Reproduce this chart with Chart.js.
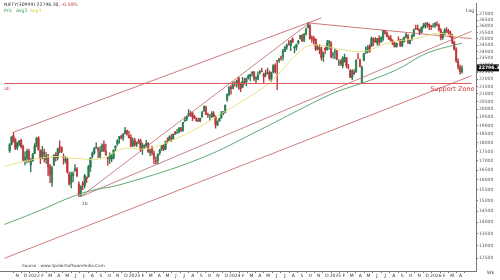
<!DOCTYPE html>
<html>
<head>
<meta charset="utf-8">
<script src="https://cdn.jsdelivr.net/npm/chart.js@4"></script>
<style>
  html, body { margin: 0; padding: 0; background: #fff; }
  canvas { display: block; }
</style>
</head>
<body>
<canvas id="chart" width="500" height="280"></canvas>
<script>
// weekly candles, week 0 = week of 4 Oct 2021
const START = Date.UTC(2021, 9, 4);
const WEEK = 7 * 86400000;

// [open, high, low, close]
const ohlc = [
  [17530,17950,17450,17895],[17900,18350,17870,18338],[18400,18604,18030,18114],[18160,18240,17610,17671],
  [17700,18020,17600,17916],[17950,18130,17840,18102],[18140,18210,17690,17765],[17800,17860,16980,17026],
  [17050,17490,16780,17196],[17150,17640,16890,17511],[17520,17640,16940,16985],[16770,17120,16410,17003],
  [17000,17400,16960,17354],[17390,17950,17380,17812],[17820,18290,17780,18256],[18280,18350,17580,17617],
  [17590,17600,16840,17102],[17130,17790,17100,17516],[17460,17640,16920,17375],[17070,17440,16860,17276],
  [17190,17350,16200,16658],[16730,16810,15860,16245],[15870,16700,15670,16630],[16760,17340,16740,17287],
  [17330,17440,16980,17153],[17180,17700,17050,17670],[17810,18110,17420,17784],[17740,17760,17440,17476],
  [17180,17380,16820,17172],[17000,17240,16890,17103],[17100,17130,16340,16411],[16300,16400,15740,15782],
  [15850,16400,15600,16266],[16210,16420,15900,16352],[16480,16790,16440,16584],[16570,16640,16170,16202],
  [15780,15900,15180,15294],[15330,15710,15190,15699],[15830,15930,15510,15752],[15710,16280,15600,16220],
  [16130,16160,15860,16049],[16150,16750,16140,16719],[16660,17170,16440,17158],[17240,17490,17150,17398],
  [17420,17720,17360,17698],[17700,17990,17680,17758],[17680,17730,17170,17559],[17190,17780,17170,17539],
  [17550,17930,17490,17833],[17890,18100,17500,17531],[17540,17920,17290,17327],[17160,17200,16750,17094],
  [17100,17430,16860,17315],[17090,17350,16950,17186],[17140,17610,17100,17576],[17700,17840,17530,17787],
  [17910,18180,17840,18117],[18210,18360,17970,18350],[18380,18440,18210,18308],[18250,18530,18130,18512],
  [18510,18890,18500,18696],[18720,18730,18420,18497],[18400,18670,18250,18269],[18290,18470,17770,17806],
  [17830,18270,17770,18105],[18130,18250,17800,17859],[17910,18050,17770,17956],[18080,18200,17960,18027],
  [18120,18200,17490,17604],[17650,17970,17350,17854],[17820,17880,17690,17856],[17840,18130,17760,17944],
  [17960,18000,17460,17465],[17430,17640,17260,17594],[17680,17800,17320,17413],[17420,17530,16850,17100],
  [16990,17210,16830,16945],[17000,17380,16830,17360],[17430,17640,17310,17599],[17630,17850,17570,17828],
  [17860,17870,17550,17624],[17630,18090,17610,18065],[18120,18270,17980,18069],[18120,18390,18110,18315],
  [18340,18460,18060,18203],[18200,18510,18180,18499],[18590,18660,18460,18534],[18560,18780,18510,18563],
  [18600,18890,18560,18826],[18870,18890,18650,18666],[18680,19200,18650,19189],[19250,19520,19280,19332],
  [19380,19570,19300,19564],[19610,19990,19560,19745],[19750,19890,19560,19646],[19780,19800,19300,19517],
  [19580,19620,19410,19428],[19380,19470,19250,19310],[19330,19460,19230,19266],[19300,19460,19220,19435],
  [19530,19870,19490,19820],[19890,20220,19870,20192],[20160,20200,19670,19674],[19680,19770,19490,19638],
  [19620,19660,19330,19653],[19540,19850,19480,19751],[19730,19850,19520,19543],[19520,19590,18840,19047],
  [19050,19280,18970,19231],[19260,19450,19260,19425],[19440,19880,19440,19732],[19730,19880,19670,19795],
  [19800,20290,19780,20268],[20600,21010,20510,20969],[20970,21490,20870,21457],[21450,21590,20980,21349],
  [21370,21800,21330,21731],[21730,21830,21500,21711],[21750,21930,21450,21895],[22050,22120,21290,21622],
  [21700,21750,21140,21353],[21430,22130,21430,21854],[21830,22050,21630,21783],[21790,22070,21530,22041],
  [22100,22300,22000,22213],[22170,22350,21880,22339],[22400,22530,22220,22494],[22520,22530,21900,22023],
  [21990,22180,21710,22097],[22000,22520,21950,22327],[22450,22620,22350,22514],[22580,22780,22500,22519],
  [22340,22430,21780,22147],[22340,22630,22180,22420],[22480,22790,22350,22476],[22500,22590,21930,22055],
  [22030,22500,21820,22467],[22500,23030,22430,22957],[22990,23110,22420,22531],[23340,23340,21280,23290],
  [23320,23490,23200,23466],[23570,23670,23350,23501],[23590,24170,23350,24011],[23990,24400,23990,24324],
  [24330,24590,24170,24502],[24540,24850,24500,24531],[24450,24860,24070,24835],[24940,25080,24690,24718],
  [24300,24420,23890,24368],[24320,24570,24100,24541],[24640,24870,24580,24823],[25010,25270,24970,25236],
  [25290,25330,24760,24852],[24820,25430,24760,25357],[25400,25850,25280,25791],[25870,26280,25870,26179],
  [26060,26130,24970,25015],[25080,25230,24700,24964],[25020,25210,24570,24854],[24960,24980,24070,24181],
  [24250,24500,24130,24304],[24310,24540,23820,24148],[24090,24340,23350,23533],[23600,23960,23260,23907],
  [24250,24350,23870,24131],[24140,24860,24100,24678],[24670,24860,24180,24768],[24660,24780,23540,23588],
  [23740,23940,23480,23813],[23960,24230,23460,24005],[24050,24090,23380,23432],[23200,23400,22960,23203],
  [23290,23390,22980,23092],[22940,23630,22790,23508],[23240,23810,23220,23560],[23540,23570,22800,22929],
  [22810,23050,22730,22796],[22610,22670,22100,22125],[22120,22670,21960,22553],[22520,22680,22310,22397],
  [22510,23400,22470,23350],[23520,23870,23450,23519],[23340,23460,22860,22904],[21760,22920,21740,22829],
  [23340,23870,23300,23852],[23950,24360,23850,24039],[24070,24460,23900,24347],[24420,24530,23940,24008],
  [24420,25120,24380,25020],[25000,25070,24460,24853],[24900,25080,24700,24751],[24670,25030,24500,25003],
  [25050,25220,24480,24719],[24730,25140,24700,25112],[24940,25670,24820,25638],[25660,25670,25330,25461],
  [25460,25550,25130,25150],[25150,25250,24920,24968],[25000,25240,24810,24837],[24790,24900,24540,24565],
  [24570,24720,24340,24363],[24370,24670,24340,24631],[24880,25150,24860,24870],[24900,24950,24400,24427],
  [24430,24980,24380,24741],[24770,25140,24750,25114],[25120,25450,25080,25327],[25240,25330,24630,24655],
  [24630,24910,24590,24894],[24900,25320,24880,25285],[25230,25780,25150,25710],[25800,26100,25720,25795],
  [25800,26100,25700,25722],[25700,25770,25320,25492],[25500,25950,25450,25910],[25950,26250,25850,26068],
  [26000,26310,25850,26203],[26250,26330,25900,26186],[26150,26200,25730,26047],[26000,26080,25730,25966],
  [26000,26230,25900,26042],[26030,26300,25900,26250],[26200,26380,26000,26100],[26100,26200,25600,25700],
  [25700,25800,24900,25050],[25050,25500,24950,25400],[25400,25800,25300,25700],[25700,25900,25500,25600],
  [25600,25750,25300,25450],[25450,25600,25100,25200],[25200,25350,24600,24700],[24700,24800,24100,24200],
  [24200,24300,23200,23300],[23300,23450,22700,22850],[22850,23000,22350,22500],[22500,22950,22400,22796]
];

// moving averages: [week, value]
const avgSlow = [[-2.7,13900],[13,14430],[38,15354],[58.5,15790],[99,17120],[130,18740],[150,19940],
  [169,21090],[184,21760],[201,22660],[217,23890],[235,24650]];
const avgFast = [[-2.7,16700],[7.5,16960],[23,17230],[34.5,17120],[48,17120],[58.5,17660],[72,17660],
  [82.5,18050],[96,18740],[107,19510],[120,20450],[135,21760],[150,23890],[157,24500],[174,24120],
  [185,24040],[196,24650],[212,25040],[223,25430],[235,25040]];

// trend lines: [[week, price], [week, price]]
const upperLine = [[2,18604],[162,26695]];
const topDownLine = [[155,26277],[240,25000]];
const steepLine = [[37,15183],[156,26300]];
const midLine = [[37,15183],[240,25590]];
const lowerLine = [[-2.7,12490],[240,22240]];
const supportLevel = 21700;

const tickLabels = ['N','D',
  '2022','F','M','A','M','J','J','A','S','O','N','D',
  '2023','F','M','A','M','J','J','A','S','O','N','D',
  '2024','F','M','A','M','J','J','A','S','O','N','D',
  '2025','F','M','A','M','J','J','A','S','O','N','D',
  '2026','F','M','A'];
const tickWeeks = tickLabels.map((l, k) => (Date.UTC(2021, 10 + k, 1) - START) / WEEK);

const lastPrice = 22796.3;

const upFill = '#4fb07f', upLine = '#2b7850';
const dnFill = '#e8666f', dnLine = '#b83636';
const isUp = ohlc.map(c => c[3] >= c[0]);

const pts = arr => arr.map(p => ({ x: p[0], y: p[1] }));
const lineDs = (arr, color, w, tension) => ({
  type: 'line', data: pts(arr), borderColor: color, backgroundColor: color, borderWidth: w,
  pointRadius: 0, tension: tension || 0, fill: false
});

const texts = {
  id: 'texts',
  afterDraw(chart) {
    const ctx = chart.ctx, xs = chart.scales.x, ys = chart.scales.y;
    ctx.save();
    ctx.textBaseline = 'middle';
    ctx.font = '4.6px "DejaVu Sans"';
    ctx.fillStyle = '#333';
    const head = 'NIFTY(30999) 22796.30, ';
    ctx.fillText(head, 4, 5);
    ctx.fillStyle = '#d04040';
    ctx.fillText('-0.50%', 4 + ctx.measureText(head).width, 5);
    ctx.fillStyle = '#3a9a55'; ctx.fillText('Pric', 4, 11);
    ctx.fillStyle = '#3a9a55'; ctx.fillText('Avg2', 16, 11);
    ctx.fillStyle = '#d8d040'; ctx.fillText('Avg3', 30, 11);

    ctx.fillStyle = '#444';
    ctx.fillText('Log', 466, 11);
    ctx.fillText('Wk', 487, 273);
    ctx.fillText('1a', xs.getPixelForValue(3), ys.getPixelForValue(17900));
    ctx.fillText('1b', xs.getPixelForValue(37.5), ys.getPixelForValue(14850));
    ctx.fillStyle = '#c04848';
    ctx.fillText('ab', 4, ys.getPixelForValue(21350));
    ctx.fillStyle = '#444';
    ctx.font = '4.2px "DejaVu Sans"';
    ctx.fillText('Source : www.SpiderSoftwareIndia.Com', 22, 266);

    ctx.font = '6.5px "DejaVu Sans"';
    ctx.fillStyle = '#d03838';
    ctx.fillText('Support Zone', xs.getPixelForValue(218.5), ys.getPixelForValue(21300));

    // last price tag on the axis
    const py = ys.getPixelForValue(lastPrice);
    ctx.fillStyle = '#111';
    ctx.fillRect(477, py - 3.5, 22, 7);
    ctx.fillStyle = '#fff';
    ctx.font = 'bold 4.6px "DejaVu Sans"';
    ctx.fillText('22796.3', 478.5, py);
    ctx.restore();
  }
};

new Chart(document.getElementById('chart'), {
  type: 'bar',
  data: {
    datasets: [
      lineDs(lowerLine, '#c45a5a', 0.8),
      lineDs([[-2.7, supportLevel], [240, supportLevel]], '#e05a5a', 1),
      lineDs(avgSlow, '#4f9e5e', 0.9, 0.4),
      lineDs(avgFast, '#e6df7a', 0.9, 0.4),
      lineDs(upperLine, '#c0585c', 0.8),
      lineDs(topDownLine, '#c0585c', 0.8),
      lineDs(steepLine, '#b86466', 0.8),
      lineDs(midLine, '#b86466', 0.8),
      {
        data: ohlc.map((c, i) => ({ x: i, y: [c[2], c[1]] })),
        backgroundColor: isUp.map(u => u ? upLine : dnLine),
        barThickness: 0.7, grouped: false
      },
      {
        data: ohlc.map((c, i) => ({ x: i, y: [c[0], c[3]] })),
        backgroundColor: isUp.map(u => u ? upFill : dnFill),
        borderColor: isUp.map(u => u ? upLine : dnLine),
        borderWidth: 0.4, borderSkipped: false,
        barThickness: 1.9, grouped: false
      }
    ]
  },
  options: {
    responsive: false,
    devicePixelRatio: 1,
    animation: false,
    layout: { padding: 0 },
    plugins: { legend: { display: false }, tooltip: { enabled: false } },
    scales: {
      x: {
        type: 'linear', min: -2.7, max: 240,
        grid: { drawOnChartArea: false, tickLength: 2, color: '#777' },
        border: { color: '#777' },
        ticks: {
          font: { size: 4.5, family: 'DejaVu Sans' }, color: '#333', padding: 0,
          autoSkip: false, maxRotation: 0,
          callback: (v, i) => tickLabels[i]
        },
        afterBuildTicks: s => { s.ticks = tickWeeks.map(v => ({ value: v })); },
        afterFit: s => { s.height = 9; }
      },
      y: {
        type: 'logarithmic', position: 'right', min: 12000, max: 27920,
        grid: { drawOnChartArea: false, tickLength: 2, color: '#777' },
        border: { color: '#777' },
        ticks: {
          font: { size: 4.5, family: 'DejaVu Sans' }, color: '#555', padding: 1,
          autoSkip: false, callback: v => String(v)
        },
        afterBuildTicks: s => {
          const t = [];
          for (let v = 12500; v <= 27000; v += 500) t.push({ value: v });
          s.ticks = t;
        },
        afterFit: s => { s.width = 24; }
      }
    }
  },
  plugins: [texts]
});
</script>
</body>
</html>
